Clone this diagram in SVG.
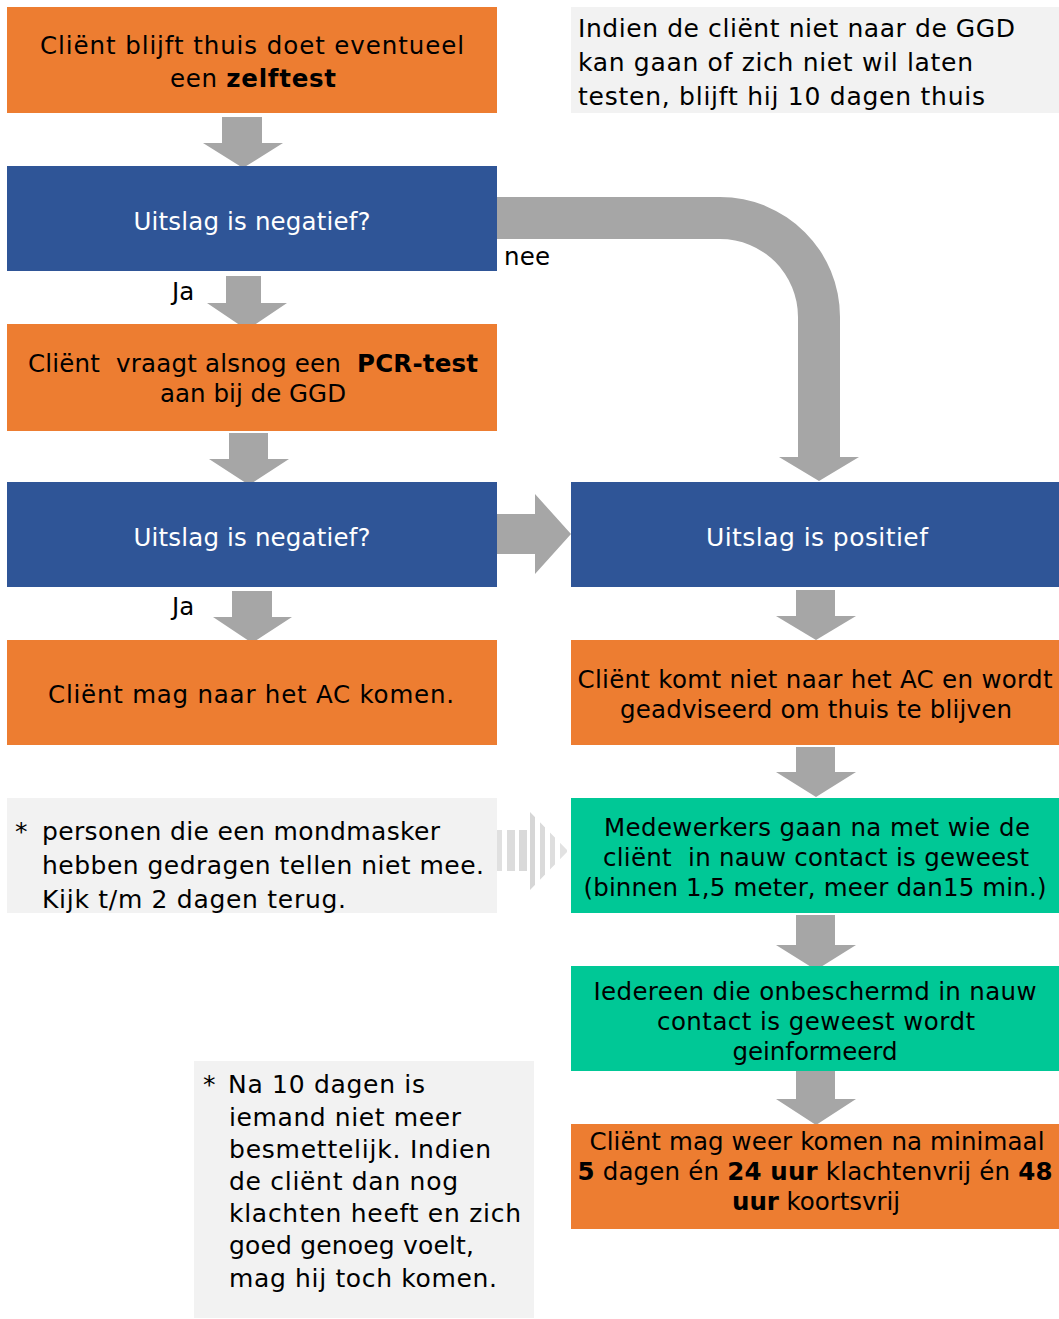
<svg xmlns="http://www.w3.org/2000/svg" width="1059" height="1319" viewBox="0 0 1059 1319">
<style>
.or{fill:#ed7d31}
.bl{fill:#2f5597}
.gr{fill:#00c896}
.nt{fill:#f2f2f2}
.ar{fill:#a6a6a6}
text{font-family:"DejaVu Sans","Liberation Sans",sans-serif;font-size:24.5px;fill:#000}
.c{text-anchor:middle}
.w{fill:#fff}
.b{font-weight:bold}
.n{font-size:25px}
</style>
<defs>
<clipPath id="sa"><path d="M493,830 H530 V812 L568,851 L530,890 V871 H493 Z"/></clipPath>
</defs>
<rect width="1059" height="1319" fill="#fff"/>

<g id="connectors">
<polygon class="ar" points="222,117 262,117 262,143 283,143 243,168 203,143 222,143"/>
<polygon class="ar" points="226,276 261,276 261,303 287,303 247,330 207,303 226,303"/>
<polygon class="ar" points="229,433 268,433 268,459 289,459 249,485 209,459 229,459"/>
<polygon class="ar" points="232,591 272,591 272,617 292,617 252,643 213,617 232,617"/>
<polygon class="ar" points="497,514 535,514 535,494 571,534 535,574 535,554 497,554"/>
<path class="ar" d="M497,197 H720 A120,120 0 0 1 840,317 V457 H859 L819,481 L779,457 H798 V317 A78,78 0 0 0 720,239 H497 Z"/>
<polygon class="ar" points="796,590 835,590 835,616 856,616 816,640 776,616 796,616"/>
<polygon class="ar" points="796,747 835,747 835,772 856,772 816,797 776,772 796,772"/>
<polygon class="ar" points="796,915 835,915 835,945 856,945 816,970 776,945 796,945"/>
<polygon class="ar" points="796,1071 835,1071 835,1099 856,1099 816,1125 776,1099 796,1099"/>
<g clip-path="url(#sa)">
<rect x="494" y="810" width="8" height="82" fill="#e0e0e0"/>
<rect x="507" y="810" width="8" height="82" fill="#dcdcdc"/>
<rect x="519" y="810" width="8" height="82" fill="#d9d9d9"/>
<rect x="530" y="810" width="5" height="82" fill="#d6d6d6"/>
<rect x="540" y="810" width="5" height="82" fill="#dadada"/>
<rect x="550" y="810" width="5" height="82" fill="#dedede"/>
<rect x="560" y="810" width="7" height="82" fill="#e2e2e2"/>
</g>
</g>

<g id="n1"><rect class="or" x="7" y="7" width="490" height="106"/>
<text class="c" x="252" y="54" textLength="424">Cliënt blijft thuis doet eventueel</text>
<text class="c" x="253" y="87" textLength="166">een <tspan class="b">zelftest</tspan></text></g>

<g id="note1"><rect class="nt" x="571" y="7" width="488" height="106"/>
<text class="n" x="578" y="37" textLength="437">Indien de cliënt niet naar de GGD</text>
<text class="n" x="578" y="71" textLength="395">kan gaan of zich niet wil laten</text>
<text class="n" x="578" y="105" textLength="407">testen, blijft hij 10 dagen thuis</text></g>

<g id="n2"><rect class="bl" x="7" y="166" width="490" height="105"/>
<text class="c w" x="252" y="230" textLength="237">Uitslag is negatief?</text></g>

<text x="504" y="265" textLength="46">nee</text>
<text x="172" y="300">Ja</text>

<g id="n3"><rect class="or" x="7" y="324" width="490" height="107"/>
<text class="c" x="253" y="372" textLength="450" xml:space="preserve">Cliënt  vraagt alsnog een  <tspan class="b">PCR-test</tspan></text>
<text class="c" x="253" y="402" textLength="186">aan bij de GGD</text></g>

<g id="n4"><rect class="bl" x="7" y="482" width="490" height="105"/>
<text class="c w" x="252" y="546" textLength="237">Uitslag is negatief?</text></g>

<g id="n5"><rect class="bl" x="571" y="482" width="488" height="105"/>
<text class="c w n" x="817" y="546" textLength="222">Uitslag is positief</text></g>

<text x="172" y="615">Ja</text>

<g id="n6"><rect class="or" x="7" y="640" width="490" height="105"/>
<text class="c" x="251" y="703" textLength="406">Cliënt mag naar het AC komen.</text></g>

<g id="n7"><rect class="or" x="571" y="640" width="488" height="105"/>
<text class="c" x="815" y="688" textLength="475">Cliënt komt niet naar het AC en wordt</text>
<text class="c" x="816" y="718" textLength="392">geadviseerd om thuis te blijven</text></g>

<g id="note2"><rect class="nt" x="7" y="798" width="490" height="115"/>
<text class="n" x="15" y="840">*</text>
<text class="n" x="42" y="840" textLength="398">personen die een mondmasker</text>
<text class="n" x="42" y="874" textLength="442">hebben gedragen tellen niet mee.</text>
<text class="n" x="42" y="908" textLength="304">Kijk t/m 2 dagen terug.</text></g>

<g id="n8"><rect class="gr" x="571" y="798" width="488" height="115"/>
<text class="c" x="817" y="836" textLength="426">Medewerkers gaan na met wie de</text>
<text class="c" x="816" y="866" textLength="426" xml:space="preserve">cliënt  in nauw contact is geweest</text>
<text class="c" x="815" y="896" textLength="463">(binnen 1,5 meter, meer dan15 min.)</text></g>

<g id="n9"><rect class="gr" x="571" y="966" width="488" height="105"/>
<text class="c" x="815" y="1000" textLength="443">Iedereen die onbeschermd in nauw</text>
<text class="c" x="816" y="1030" textLength="318">contact is geweest wordt</text>
<text class="c" x="815" y="1060" textLength="165">geinformeerd</text></g>

<g id="n10"><rect class="or" x="571" y="1124" width="488" height="105"/>
<text class="c" x="817" y="1150" textLength="455">Cliënt mag weer komen na minimaal</text>
<text class="c" x="815" y="1180" textLength="475"><tspan class="b">5</tspan> dagen én <tspan class="b">24 uur</tspan> klachtenvrij én <tspan class="b">48</tspan></text>
<text class="c" x="816" y="1210" textLength="168"><tspan class="b">uur</tspan> koortsvrij</text></g>

<g id="note3"><rect class="nt" x="194" y="1061" width="340" height="257"/>
<text class="n" x="203" y="1093">*</text>
<text class="n" x="228" y="1093" textLength="197">Na 10 dagen is</text>
<text class="n" x="229" y="1126" textLength="232">iemand niet meer</text>
<text class="n" x="229" y="1158" textLength="262">besmettelijk. Indien</text>
<text class="n" x="229" y="1190" textLength="229">de cliënt dan nog</text>
<text class="n" x="229" y="1222" textLength="292">klachten heeft en zich</text>
<text class="n" x="229" y="1254" textLength="245">goed genoeg voelt,</text>
<text class="n" x="229" y="1287" textLength="268">mag hij toch komen.</text></g>
</svg>
